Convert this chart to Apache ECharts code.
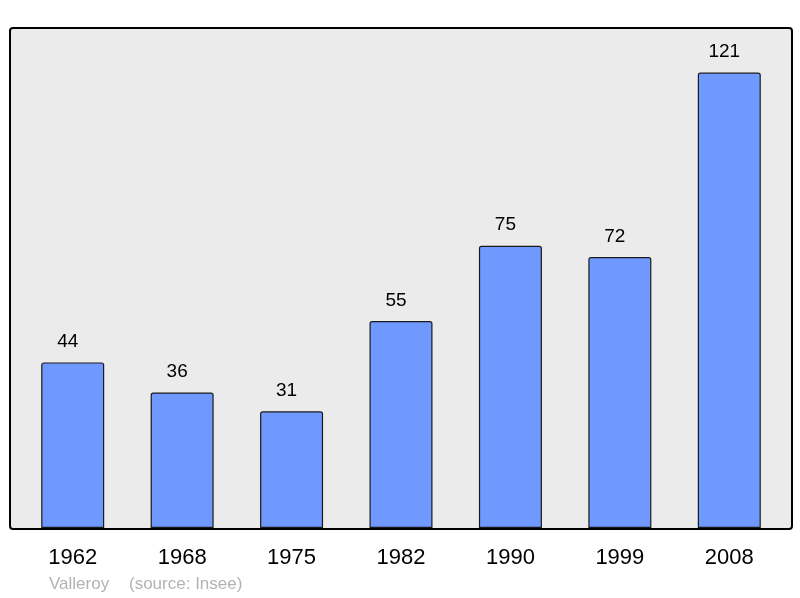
<!DOCTYPE html>
<html>
<head>
<meta charset="utf-8">
<script src="https://cdn.jsdelivr.net/npm/echarts@6/dist/echarts.min.js"></script>
<style>
  html, body { margin: 0; padding: 0; background: #fff; }
  #main { width: 800px; height: 598px; }
</style>
</head>
<body>
<div id="main"></div>
<script>
var years = ['1962', '1968', '1975', '1982', '1990', '1999', '2008'];
var population = [44, 36, 31, 55, 75, 72, 121];
var place = 'Valleroy';
var source = '(source: Insee)';

var myChart = echarts.init(document.getElementById('main'));

myChart.setOption({
    animation: false,
    textStyle: { fontFamily: 'Liberation Sans, Arial, sans-serif' },
    graphic: [
        {
            type: 'rect',
            left: 9, top: 27,
            shape: { width: 782, height: 501, r: 3 },
            style: { fill: '#ebebeb', stroke: '#000', lineWidth: 2 },
            z: -10
        },
        {
            type: 'text',
            left: 49, top: 576,
            style: { text: place, fill: '#b3b3b3', fontSize: 17, fontFamily: 'Liberation Sans, Arial, sans-serif' }
        },
        {
            type: 'text',
            left: 129, top: 576,
            style: { text: source, fill: '#b3b3b3', fontSize: 17, fontFamily: 'Liberation Sans, Arial, sans-serif' }
        }
    ],
    grid: { left: 18, right: 16, top: 27, bottom: 70 },
    xAxis: {
        type: 'category',
        data: years,
        axisLine: { show: false },
        axisTick: { show: false },
        axisLabel: { color: '#000', fontSize: 22, margin: 19 }
    },
    yAxis: {
        type: 'value',
        min: 0,
        max: 133.1,
        show: false,
        splitLine: { show: false }
    },
    series: [{
        type: 'bar',
        data: population,
        barWidth: 63,
        itemStyle: {
            color: '#7099ff',
            borderColor: '#1a1a1a',
            borderWidth: 1.2,
            borderRadius: [2, 2, 0, 0]
        },
        label: {
            show: true,
            position: 'top',
            distance: 11,
            offset: [-5, 0],
            color: '#000',
            fontSize: 19
        }
    }]
});
</script>
</body>
</html>
